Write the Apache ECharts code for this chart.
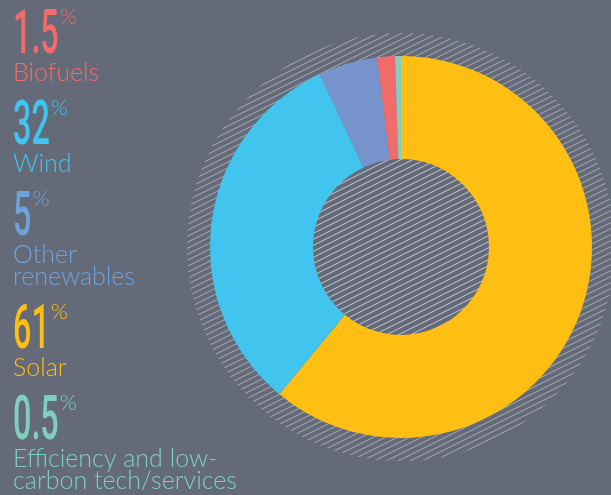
<!DOCTYPE html>
<html>
<head>
<meta charset="utf-8">
<style>
  html, body { margin: 0; padding: 0; background: #646a77; }
  #chart { width: 611px; height: 495px; }
</style>
<script src="https://cdn.jsdelivr.net/npm/echarts@6/dist/echarts.min.js"></script>
</head>
<body>
<div id="chart"></div>
<script>
// ---- data ----
const categories = ['Solar', 'Wind', 'Other renewables', 'Biofuels', 'Efficiency and low-carbon tech/services'];
const values = [61, 32, 5, 1.5, 0.5];
const sliceColors = ['#ffbe12', '#41c4ed', '#7793cb', '#f26b6b', '#80cfc2'];
const textColors = ['#ffbe12', '#41c4ed', '#6fa2da', '#f26b6b', '#7ecfc0'];
// left-hand annotation order and line breaks
const legendOrder = ['Biofuels', 'Wind', 'Other renewables', 'Solar', 'Efficiency and low-carbon tech/services'];
const legendLines = {
  'Biofuels': ['Biofuels'],
  'Wind': ['Wind'],
  'Other renewables': ['Other', 'renewables'],
  'Solar': ['Solar'],
  'Efficiency and low-carbon tech/services': ['Efficiency and low-', 'carbon tech/services']
};

// ---- hatch pattern ----
function makeHatch() {
  const H = 12, W = 24;
  const c = document.createElement('canvas');
  c.width = W; c.height = H;
  const ctx = c.getContext('2d');
  ctx.strokeStyle = 'rgba(180,185,193,0.85)';
  ctx.lineWidth = 1;
  const step = H / 2;
  for (let k = -6; k <= 8; k++) {
    const y0 = k * step;
    ctx.beginPath();
    ctx.moveTo(-W, y0 + W / 2);
    ctx.lineTo(2 * W, y0 - W);
    ctx.stroke();
  }
  return c;
}

const numFont = 'Roboto';
const labelFont = 'Lato';
const measure = (() => {
  const cv = document.createElement('canvas').getContext('2d');
  return (txt, font) => { cv.font = font; return cv.measureText(txt).width; };
})();

const graphics = [];
const numScale = 0.53;
const numSize = 61;
let yCursor = 10;
legendOrder.forEach(name => {
  const i = categories.indexOf(name);
  const numStr = String(values[i]);
  const col = textColors[i];
  const nf = '500 ' + numSize + 'px ' + numFont;
  graphics.push({
    type: 'text', x: 13, y: yCursor - 3, scaleX: numScale, originX: 0,
    style: { text: numStr, fill: col, font: nf, verticalAlign: 'top', align: 'left' }
  });
  const wNum = measure(numStr, nf) * numScale;
  graphics.push({
    type: 'text', x: 13 + wNum + 1, y: yCursor - 4,
    style: { text: '%', fill: col, font: '300 22px ' + labelFont, verticalAlign: 'top', align: 'left' }
  });
  let base = yCursor + 71;
  legendLines[name].forEach((line, li) => {
    graphics.push({
      type: 'text', x: 13, y: base - 21,
      style: { text: line, fill: col, font: '300 25px ' + labelFont, verticalAlign: 'top', align: 'left' }
    });
    if (li < legendLines[name].length - 1) base += 22;
  });
  yCursor = base + 20;
});

const chart = echarts.init(document.getElementById('chart'), null, { renderer: 'canvas' });
chart.setOption({
  backgroundColor: '#646a77',
  animation: false,
  graphic: graphics,
  series: [
    {
      type: 'pie', silent: true, z: 1,
      center: [401, 247], radius: [0, 214],
      label: { show: false }, labelLine: { show: false },
      itemStyle: { color: { image: makeHatch(), repeat: 'repeat' } },
      emphasis: { disabled: true },
      data: [{ value: 1, name: 'hatch' }]
    },
    {
      type: 'pie', silent: true, z: 2,
      center: [401, 247], radius: [88, 191],
      startAngle: 90, clockwise: true,
      label: { show: false }, labelLine: { show: false },
      emphasis: { disabled: true },
      itemStyle: { borderWidth: 0 },
      data: categories.map((c, i) => ({ name: c, value: values[i], itemStyle: { color: sliceColors[i] } }))
    },
    {
      type: 'pie', silent: true, z: 3,
      center: [401, 247], radius: [0, 88],
      label: { show: false }, labelLine: { show: false },
      itemStyle: { color: { image: makeHatch(), repeat: 'repeat' } },
      emphasis: { disabled: true },
      data: [{ value: 1, name: 'hole' }]
    }
  ]
});
</script>
</body>
</html>
